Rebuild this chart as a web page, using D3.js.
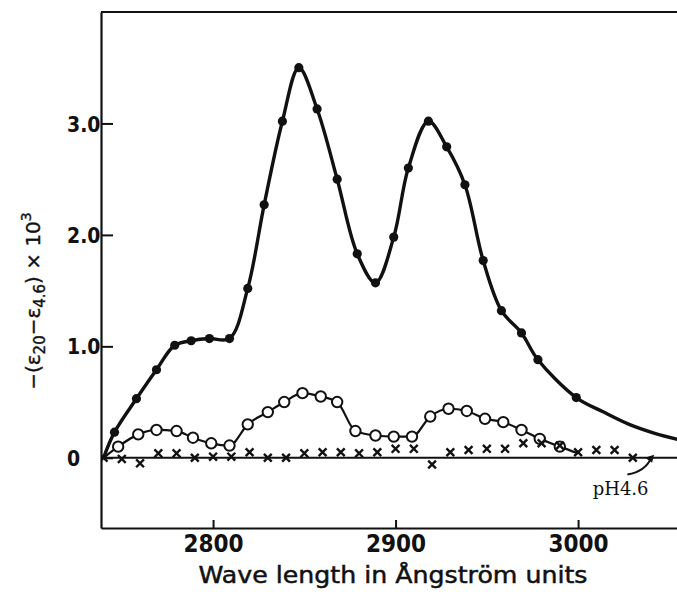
<!DOCTYPE html>
<html><head><meta charset="utf-8">
<script src="https://cdn.jsdelivr.net/npm/d3@7"></script>
<style>body{margin:0;background:#fff} svg{display:block;background:#fff}</style>
</head><body><svg id="c" width="677" height="592"></svg>
<script>
// ---- data ----
const originWave = [2740];
const originVals = [0];
const filledWave = [2746, 2758, 2769, 2779, 2788, 2798, 2809, 2819, 2828, 2838, 2847, 2857, 2868, 2879, 2889, 2899, 2907, 2918, 2928, 2938, 2948, 2958, 2969, 2978, 2999];
const filledVals = [0.23, 0.53, 0.79, 1.01, 1.05, 1.07, 1.07, 1.52, 2.27, 3.02, 3.50, 3.13, 2.50, 1.83, 1.57, 1.98, 2.60, 3.02, 2.79, 2.45, 1.77, 1.32, 1.12, 0.88, 0.54];
const filledTailWave = [3014, 3028, 3042, 3056];
const filledTailVals = [0.41, 0.30, 0.22, 0.16];
const openWave = [2748, 2759, 2769, 2780, 2789, 2799, 2809, 2819, 2830, 2839, 2849, 2859, 2868, 2878, 2889, 2899, 2909, 2919, 2929, 2939, 2949, 2959, 2969, 2979, 2990];
const openVals = [0.10, 0.21, 0.25, 0.24, 0.18, 0.13, 0.11, 0.30, 0.41, 0.50, 0.58, 0.55, 0.50, 0.24, 0.20, 0.19, 0.19, 0.37, 0.44, 0.42, 0.35, 0.32, 0.25, 0.17, 0.10];
const openTailWave = [3000];
const openTailVals = [0.04];
const crossWave = [2740, 2750, 2760, 2770, 2780, 2790, 2800, 2810, 2820, 2830, 2840, 2850, 2860, 2870, 2880, 2890, 2900, 2910, 2920, 2930, 2940, 2950, 2960, 2970, 2980, 2990, 3000, 3010, 3020, 3030];
const crossVals = [0, -0.01, -0.05, 0.04, 0.04, 0.00, 0.01, 0.01, 0.05, 0.00, 0.00, 0.04, 0.05, 0.05, 0.04, 0.05, 0.08, 0.08, -0.06, 0.05, 0.07, 0.08, 0.08, 0.13, 0.13, 0.11, 0.05, 0.07, 0.07, 0.00];
const baselineWave = [2740, 3056];
const baselineVals = [0, 0];
const xTicks = [2800, 2900, 3000];
const xTickLabels = ["2800", "2900", "3000"];
const yTicks = [0, 1, 2, 3];
const yTickLabels = ["0", "1.0", "2.0", "3.0"];
const xTitle = "Wave length in Ångström units";
const phLabel = "pH4.6";
const phLabelAt = [3008, -0.33];
const arrowFrom = [3027, -0.15];
const arrowCtrl = [3037, -0.12];
const arrowTo = [3040, 0.0];

// ---- layout ----
const svg = d3.select("#c");
const x = d3.scaleLinear().domain([2738.6, 3054.2]).range([101, 677]);
const y = d3.scaleLinear().domain([-0.63, 4.0]).range([528, 12]);
const ink = "#111";
const numFont = "'Liberation Sans Narrow','DejaVu Sans Condensed','DejaVu Sans',sans-serif";

svg.append("defs").append("clipPath").attr("id", "plot")
  .append("rect").attr("x", 101).attr("y", 12).attr("width", 576).attr("height", 516);

// frame + axes
const xAxis = svg.append("g").attr("transform", `translate(0,${y(-0.63)})`)
  .call(d3.axisBottom(x).tickValues(xTicks).tickFormat((d, i) => xTickLabels[i]).tickSizeInner(-8).tickSizeOuter(0));
xAxis.selectAll("text").attr("y", 24).attr("dy", 0)
  .style("font-family", numFont).style("font-size", "24px").style("font-weight", "bold").attr("fill", ink);

const yAxis = svg.append("g").attr("transform", `translate(${x(2738.6)},0)`)
  .call(d3.axisLeft(y).tickValues(yTicks).tickFormat((d, i) => yTickLabels[i]).tickSizeInner(-12).tickSizeOuter(0));
yAxis.selectAll("text").attr("x", -34).attr("dy", "0.36em").attr("text-anchor", "start")
  .style("font-family", numFont).style("font-size", "21px").style("font-weight", "bold").attr("fill", ink);

[xAxis, yAxis].forEach(g => {
  g.select(".domain").attr("stroke", ink).attr("stroke-width", 2.2);
  g.selectAll(".tick line").attr("stroke", ink).attr("stroke-width", 2);
});
svg.append("line").attr("x1", x(2738.6)).attr("x2", x(3054.2)).attr("y1", y(4.0)).attr("y2", y(4.0))
  .attr("stroke", ink).attr("stroke-width", 2.2);

// axis titles
svg.append("text").attr("x", 393).attr("y", 583).attr("text-anchor", "middle")
  .attr("textLength", 389).attr("lengthAdjust", "spacingAndGlyphs")
  .style("font-family", "'DejaVu Sans',sans-serif").style("font-size", "23px")
  .attr("fill", ink).attr("stroke", ink).attr("stroke-width", 0.5).text(xTitle);

const yt = svg.append("text").attr("transform", "translate(40,301) rotate(-90)").attr("text-anchor", "middle")
  .style("font-family", "'DejaVu Sans',sans-serif").style("font-size", "20px").attr("fill", ink)
  .attr("stroke", ink).attr("stroke-width", 0.4);
yt.append("tspan").text("\u2212(\u03b5");
yt.append("tspan").attr("dy", 5).style("font-size", "15px").text("20");
yt.append("tspan").attr("dy", -5).text("\u2212\u03b5");
yt.append("tspan").attr("dy", 5).style("font-size", "15px").text("4.6");
yt.append("tspan").attr("dy", -5).text(") \u00d7 10");
yt.append("tspan").attr("dy", -9).style("font-size", "14px").text("3");

// series
const pts = (w, v) => w.map((d, i) => [d, v[i]]);
const plot = svg.append("g").attr("clip-path", "url(#plot)");
const line = d3.line().x(d => x(d[0])).y(d => y(d[1])).curve(d3.curveMonotoneX);
const lineLin = d3.line().x(d => x(d[0])).y(d => y(d[1]));

plot.append("path").datum(pts(baselineWave, baselineVals)).attr("d", lineLin)
  .attr("fill", "none").attr("stroke", ink).attr("stroke-width", 2);

plot.append("path")
  .datum(pts(originWave, originVals).concat(pts(openWave, openVals), pts(openTailWave, openTailVals)))
  .attr("d", line).attr("fill", "none").attr("stroke", ink).attr("stroke-width", 2.2);

plot.append("path")
  .datum(pts(originWave, originVals).concat(pts(filledWave, filledVals), pts(filledTailWave, filledTailVals)))
  .attr("d", d3.line().x(d => x(d[0])).y(d => y(d[1])).curve(d3.curveCatmullRom.alpha(0.5)))
  .attr("fill", "none").attr("stroke", ink).attr("stroke-width", 3.4);

plot.selectAll("circle.open").data(pts(openWave, openVals)).join("circle").attr("class", "open")
  .attr("cx", d => x(d[0])).attr("cy", d => y(d[1])).attr("r", 5.2)
  .attr("fill", "#fff").attr("stroke", ink).attr("stroke-width", 2);

plot.selectAll("circle.fill").data(pts(filledWave, filledVals)).join("circle").attr("class", "fill")
  .attr("cx", d => x(d[0])).attr("cy", d => y(d[1])).attr("r", 4.6).attr("fill", ink);

const cs = 3.9;
plot.selectAll("path.cross").data(pts(crossWave, crossVals)).join("path").attr("class", "cross")
  .attr("d", d => {
    const cx = x(d[0]), cy = y(d[1]);
    return `M${cx - cs},${cy - cs}L${cx + cs},${cy + cs}M${cx + cs},${cy - cs}L${cx - cs},${cy + cs}`;
  })
  .attr("fill", "none").attr("stroke", ink).attr("stroke-width", 2.4);

// pH4.6 annotation
svg.append("text").attr("x", x(phLabelAt[0])).attr("y", y(phLabelAt[1]))
  .style("font-family", "'DejaVu Serif',serif").style("font-size", "18px").attr("fill", ink).text(phLabel);
svg.append("path")
  .attr("d", `M${x(arrowFrom[0])},${y(arrowFrom[1])}Q${x(arrowCtrl[0])},${y(arrowCtrl[1])} ${x(arrowTo[0])},${y(arrowTo[1])}`)
  .attr("fill", "none").attr("stroke", ink).attr("stroke-width", 2);
{
  const tx = x(arrowTo[0]), ty = y(arrowTo[1]);
  svg.append("path").attr("d", `M${tx + 3},${ty - 3}L${tx - 6},${ty}L${tx + 1},${ty + 5}Z`).attr("fill", ink);
}
</script></body></html>
